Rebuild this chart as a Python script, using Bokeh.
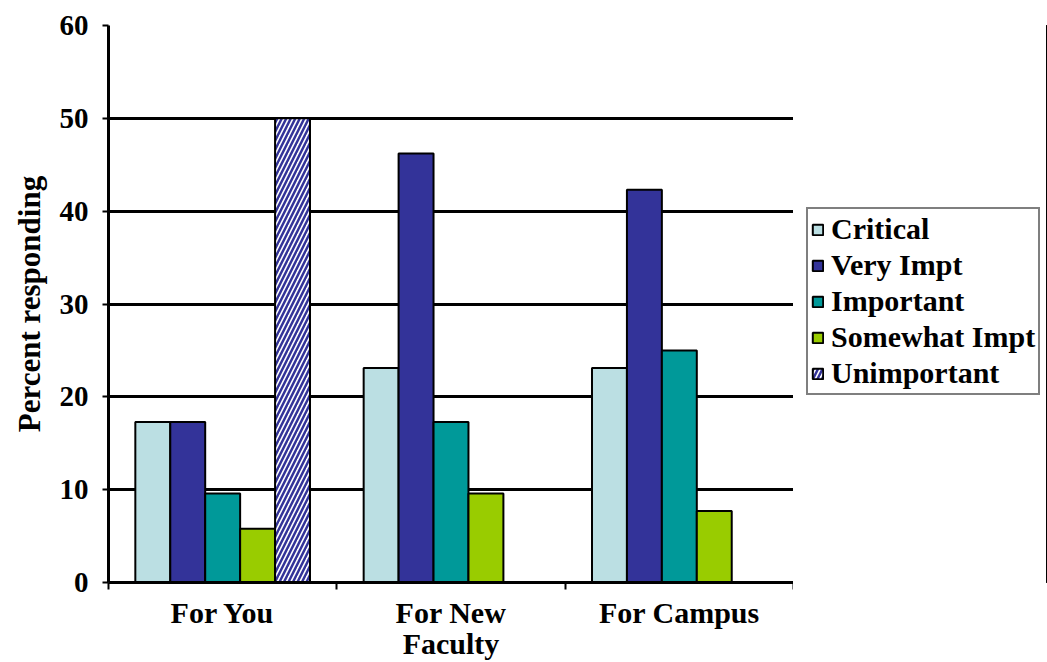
from bokeh.plotting import figure
from bokeh.layouts import row
from bokeh.models import (ColumnDataSource, FactorRange, Range1d, LinearAxis, CategoricalAxis,
                          FixedTicker, Legend, LegendItem)
from bokeh.transform import dodge
from bokeh.embed import file_html
from bokeh.resources import INLINE

# ---- data ----
categories = ["For You", "For New\nFaculty", "For Campus"]
critical = [17.3, 23.1, 23.1]
very_impt = [17.3, 46.2, 42.3]
important = [9.6, 17.3, 25.0]
somewhat_impt = [5.8, 9.6, 7.7]
unimportant = [50.0, 0.0, 0.0]
series_names = ["Critical", "Very Impt", "Important", "Somewhat Impt", "Unimportant"]
y_ticks = [0, 10, 20, 30, 40, 50, 60]
y_label = "Percent responding"

FONT = "Liberation Serif"

source = ColumnDataSource(dict(cat=categories, critical=critical, very_impt=very_impt,
                               important=important, somewhat_impt=somewhat_impt,
                               unimportant=unimportant))

p = figure(width=793, height=662, x_range=FactorRange(*categories),
           y_range=Range1d(0, y_ticks[-1]), x_axis_location=None,
           output_backend="svg", toolbar_location=None,
           min_border_left=108, min_border_right=0, min_border_top=25, min_border_bottom=80)
p.outline_line_color = None
p.background_fill_color = "white"
p.border_fill_color = "white"

# y axis
ya = p.yaxis[0]
ya.ticker = FixedTicker(ticks=y_ticks)
ya.axis_line_width = 3
ya.axis_line_color = "black"
ya.major_tick_out = 6
ya.major_tick_in = 0
ya.major_tick_line_width = 2
ya.minor_tick_line_color = None
ya.major_label_text_font = FONT
ya.major_label_text_font_style = "bold"
ya.major_label_text_font_size = "29px"
ya.major_label_text_color = "black"
ya.major_label_standoff = 14
ya.axis_label = y_label
ya.axis_label_text_font = FONT
ya.axis_label_text_font_style = "bold"
ya.axis_label_text_font_size = "31px"
ya.axis_label_text_color = "black"
ya.axis_label_standoff = 10

p.ygrid.grid_line_color = "black"
p.ygrid.grid_line_width = 3
p.xgrid.grid_line_color = None

# boundary tick axis (category edges, in synthetic coordinates of the factor range)
ba = LinearAxis(ticker=FixedTicker(ticks=list(range(len(categories) + 1))))
ba.axis_line_width = 3
ba.axis_line_color = "black"
ba.major_tick_out = 7
ba.major_tick_in = 0
ba.major_tick_line_width = 2
ba.minor_tick_line_color = None
ba.major_label_overrides = {i: "" for i in range(len(categories) + 1)}
ba.major_label_text_font_size = "1px"
ba.major_label_standoff = 0
p.add_layout(ba, "below")

ca = CategoricalAxis()
ca.axis_line_color = None
ca.major_tick_line_color = None
ca.minor_tick_line_color = None
ca.major_label_text_font = FONT
ca.major_label_text_font_style = "bold"
ca.major_label_text_font_size = "30px"
ca.major_label_text_color = "black"
ca.major_label_text_line_height = 0.95
ca.major_label_standoff = 0
p.add_layout(ca, "below")

# bars
w = 0.153
cols = ["critical", "very_impt", "important", "somewhat_impt", "unimportant"]
colors = ["#BBDFE3", "#333399", "#009999", "#99CC00", "white"]
hatch = dict(hatch_pattern="/", hatch_color="#333399", hatch_weight=2.5, hatch_scale=9)
for i, (col, color) in enumerate(zip(cols, colors)):
    kw = hatch if col == "unimportant" else {}
    p.vbar(x=dodge("cat", (i - 2) * w, range=p.x_range), top=col, width=w, source=source,
           fill_color=color, line_color="black", line_width=2, **kw)

# legend panel (separate figure so the legend sits beside the plot frame);
# its key renderers use the same data but lie far outside this panel's visible range
pl = figure(width=254, height=662, x_range=Range1d(0, 1), y_range=Range1d(0, 1),
            x_axis_location=None, y_axis_location=None, output_backend="svg",
            toolbar_location=None, min_border=0)
pl.outline_line_color = None
pl.grid.visible = False
keys = []
for i, (col, color) in enumerate(zip(cols, colors)):
    kw = hatch if col == "unimportant" else {}
    keys.append(pl.vbar(x=10, bottom=0, top=col, width=0.1, source=source,
                        fill_color=color, line_color="black", line_width=2, **kw))

legend = Legend(items=[LegendItem(label=n, renderers=[r], index=0) for n, r in zip(series_names, keys)],
                location=(13, 187))
legend.border_line_color = "black"
legend.border_line_width = 2
legend.padding = 3
legend.spacing = 2
legend.margin = 0
legend.label_text_font = FONT
legend.label_text_font_style = "bold"
legend.label_text_font_size = "30px"
legend.label_text_color = "black"
legend.glyph_width = 13
legend.glyph_height = 13
legend.label_standoff = 7
legend.label_height = 30
legend.background_fill_color = "white"
pl.add_layout(legend, "center")

layout = row(p, pl, spacing=0)
open("out.html", "w").write(file_html(layout, INLINE))
